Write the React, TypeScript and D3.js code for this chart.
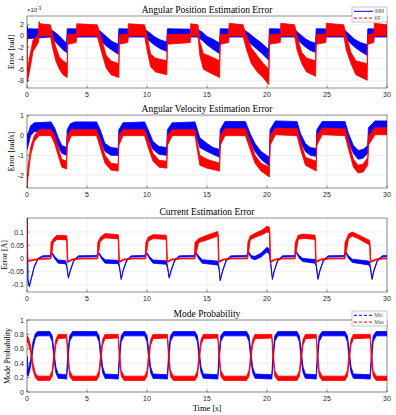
import React, { useEffect, useRef } from "react";
import * as d3 from "d3";

type Row = [number, number, number]; // [time, lower edge, upper edge] of the noisy trace

const timeTicks = [0, 5, 10, 15, 20, 25, 30];
const posTicks = [-8, -6, -4, -2, 0, 2];
const velTicks = [-2, -1, 0, 1];
const curTicks = [-0.1, -0.05, 0, 0.05, 0.1];
const probTicks = [0, 0.2, 0.4, 0.6, 0.8, 1];

// angular position error, x1e-3 rad
const posImm: Row[] = [
  [0, -1.0, 1.8], [0.05, -0.5, 1.3], [1.95, -0.2, 1.2], [2.3, -0.9, 0.7], [2.7, -1.8, 0.0],
  [3.0, -2.5, -0.7], [3.3, -3.0, -1.3], [3.35, -0.2, 1.3], [5.85, -0.2, 1.2], [6.2, -0.9, 0.7],
  [6.6, -1.8, -0.1], [7.1, -2.6, -1.0], [7.6, -3.3, -1.5], [7.65, -0.2, 1.3], [9.8, -0.2, 1.2],
  [10.2, -0.9, 0.6], [10.6, -1.6, -0.1], [11.1, -2.3, -0.7], [11.65, -2.8, -1.1], [11.7, -0.2, 1.3],
  [14.2, -0.2, 1.2], [14.6, -0.8, 0.7], [15.0, -1.6, -0.1], [15.5, -2.4, -0.6], [16.05, -3.2, -1.3],
  [16.1, -0.2, 1.3], [18.0, -0.2, 1.2], [18.5, -1.1, 0.5], [19.0, -2.1, -0.4], [19.5, -3.0, -1.2],
  [20.15, -4.4, -2.5], [20.2, -0.2, 1.3], [22.3, -0.2, 1.2], [22.7, -1.0, 0.4], [23.2, -2.0, -0.5],
  [23.6, -2.6, -1.0], [24.05, -3.0, -1.3], [24.1, -0.2, 1.3], [26.4, -0.2, 1.2], [26.8, -1.0, 0.4],
  [27.3, -2.0, -0.6], [27.8, -2.8, -1.2], [28.35, -3.5, -1.6], [28.4, -0.2, 1.3], [30, -0.2, 1.2],
];
const posKf: Row[] = [
  [0, -0.5, 0.5], [0.03, -8.3, -6.5], [0.2, -6.5, -4.0], [0.5, -2.8, -0.8], [0.95, -1.2, 0.3],
  [1.0, 0.0, 2.6], [1.1, 0.0, 2.2], [1.95, 0.0, 2.0], [2.1, -1.8, 0.5], [2.4, -4.5, -2.0],
  [2.7, -6.0, -3.8], [3.0, -7.0, -4.5], [3.35, -7.5, -5.0], [3.4, -1.5, 0.3], [4.1, -1.2, 0.3],
  [4.15, 0.0, 2.2], [5.85, 0.0, 2.0], [6.0, -1.2, 1.0], [6.3, -3.6, -1.2], [6.6, -5.8, -3.5],
  [7.0, -7.0, -4.5], [7.65, -7.5, -5.0], [7.7, -1.5, 0.3], [8.4, -1.2, 0.3], [8.45, 0.0, 2.2],
  [9.8, 0.0, 2.0], [10.0, -2.5, 0.0], [10.3, -5.5, -3.3], [10.7, -6.5, -4.0], [11.65, -7.0, -4.5],
  [11.7, -1.5, 0.3], [13.6, -1.2, 0.3], [13.65, 0.0, 2.2], [14.25, 0.0, 2.0], [14.4, -3.5, -1.0],
  [14.7, -6.0, -3.2], [15.2, -6.6, -3.6], [16.05, -7.5, -4.5], [16.1, -1.5, 0.3], [16.8, -1.2, 0.3],
  [16.85, 0.0, 2.3], [18.0, 0.0, 2.0], [18.3, -2.5, 0.0], [18.7, -5.0, -2.2], [19.2, -6.5, -3.6],
  [19.7, -7.6, -5.0], [20.15, -8.8, -6.0], [20.2, -1.5, 0.3], [21.1, -1.2, 0.3], [21.15, 0.0, 2.3],
  [22.3, 0.0, 2.0], [22.5, -2.5, 0.0], [22.9, -5.0, -3.0], [23.3, -6.5, -4.0], [24.05, -7.3, -4.5],
  [24.1, -1.5, 0.3], [24.9, -1.2, 0.3], [24.95, 0.0, 2.3], [26.4, 0.0, 2.0], [26.6, -2.5, 0.0],
  [27.0, -5.0, -3.0], [27.4, -7.0, -4.5], [28.35, -8.0, -5.0], [28.4, -1.5, 0.3], [28.9, -1.2, 0.3],
  [28.95, 0.0, 2.3], [30, 0.0, 2.0],
];

// angular velocity error, rad/s
const velImm: Row[] = [
  [0, -0.7, 0.1], [0.1, -0.5, 0.1], [0.3, 0.0, 0.5], [0.6, 0.2, 0.65], [2.0, 0.2, 0.7],
  [2.3, -0.1, 0.4], [2.6, -0.5, -0.1], [2.9, -0.9, -0.5], [3.3, -1.0, -0.6], [3.35, -0.2, 0.3],
  [3.6, 0.1, 0.6], [4.0, 0.2, 0.7], [5.8, 0.2, 0.7], [6.1, -0.2, 0.3], [6.5, -0.8, -0.4],
  [7.0, -1.0, -0.6], [7.6, -1.0, -0.65], [7.65, -0.2, 0.3], [8.0, 0.2, 0.65], [9.8, 0.2, 0.7],
  [10.1, -0.2, 0.3], [10.5, -0.7, -0.3], [11.0, -0.95, -0.55], [11.65, -1.0, -0.6], [11.7, -0.2, 0.3],
  [12.1, 0.2, 0.65], [14.0, 0.2, 0.7], [14.4, -0.6, -0.1], [15.0, -0.8, -0.4], [15.5, -0.95, -0.6],
  [16.05, -1.1, -0.7], [16.1, -0.2, 0.3], [16.5, 0.3, 0.72], [18.2, 0.2, 0.72], [18.6, -0.3, 0.1],
  [19.0, -0.8, -0.4], [19.5, -1.2, -0.8], [20.2, -1.55, -1.1], [20.25, -0.2, 0.3], [20.7, 0.3, 0.75],
  [22.5, 0.2, 0.72], [22.8, -0.3, 0.1], [23.2, -0.8, -0.4], [23.6, -1.0, -0.6], [24.1, -1.05, -0.65],
  [24.15, -0.2, 0.3], [24.6, 0.3, 0.72], [26.5, 0.2, 0.72], [26.8, -0.3, 0.1], [27.2, -0.9, -0.5],
  [27.6, -1.2, -0.75], [28.0, -1.15, -0.7], [28.4, -0.9, -0.5], [28.45, -0.1, 0.4], [29.0, 0.3, 0.75],
  [30, 0.3, 0.75],
];
const velKf: Row[] = [
  [0, -2.7, -2.3], [0.1, -2.0, -1.5], [0.3, -1.0, -0.6], [0.6, -0.3, 0.0], [1.0, 0.0, 0.3],
  [2.0, 0.0, 0.3], [2.3, -0.4, 0.0], [2.6, -1.0, -0.6], [2.9, -1.6, -1.2], [3.3, -1.7, -1.3],
  [3.35, -0.5, 0.0], [3.7, 0.0, 0.3], [5.8, 0.0, 0.3], [6.1, -0.6, -0.2], [6.5, -1.4, -1.0],
  [7.0, -1.75, -1.4], [7.6, -1.8, -1.45], [7.65, -0.5, 0.0], [8.0, 0.0, 0.3], [9.8, 0.0, 0.3],
  [10.1, -0.6, -0.2], [10.5, -1.3, -0.9], [11.0, -1.6, -1.25], [11.65, -1.65, -1.3], [11.7, -0.5, 0.0],
  [12.1, 0.0, 0.3], [14.0, 0.0, 0.3], [14.4, -1.5, -1.0], [15.0, -1.65, -1.2], [16.05, -1.8, -1.4],
  [16.1, -0.5, 0.0], [16.5, 0.0, 0.35], [18.2, 0.0, 0.35], [18.6, -0.7, -0.3], [19.0, -1.4, -1.0],
  [19.5, -1.8, -1.4], [20.2, -2.1, -1.6], [20.25, -0.5, 0.0], [20.7, 0.05, 0.38], [22.5, 0.0, 0.35],
  [22.8, -0.7, -0.3], [23.2, -1.5, -1.1], [24.1, -1.8, -1.3], [24.15, -0.5, 0.0], [24.6, 0.05, 0.38],
  [26.5, 0.0, 0.35], [26.8, -0.7, -0.3], [27.2, -1.6, -1.2], [27.6, -1.9, -1.5], [28.0, -1.85, -1.45],
  [28.4, -1.5, -1.1], [28.45, -0.5, 0.0], [29.0, 0.05, 0.4], [30, 0.05, 0.4],
];

// current error, A
const curImm: Row[] = [
  [0, 0.2, 0.2], [0.08, -0.09, -0.08], [0.2, -0.108, -0.1], [0.35, -0.08, -0.075], [0.6, -0.035, -0.03],
  [0.9, -0.005, 0.0], [1.3, 0.005, 0.01], [1.9, 0.006, 0.011], [2.05, 0.02, 0.024], [2.3, 0.0, 0.008],
  [2.6, -0.018, -0.006], [3.2, -0.02, -0.008], [3.3, -0.03, -0.02], [3.45, -0.075, -0.07], [3.6, -0.05, -0.045],
  [3.9, -0.01, -0.005], [4.3, 0.005, 0.01], [5.8, 0.006, 0.011], [5.95, 0.02, 0.024], [6.2, 0.0, 0.008],
  [6.5, -0.018, -0.005], [7.6, -0.02, -0.007], [7.7, -0.035, -0.025], [7.85, -0.08, -0.075], [8.0, -0.05, -0.045],
  [8.3, -0.01, -0.005], [8.7, 0.005, 0.01], [9.8, 0.006, 0.011], [9.95, 0.02, 0.024], [10.2, 0.0, 0.008],
  [10.5, -0.018, -0.006], [11.6, -0.022, -0.009], [11.7, -0.035, -0.025], [11.85, -0.075, -0.07], [12.0, -0.05, -0.045],
  [12.3, -0.01, -0.005], [12.7, 0.005, 0.01], [13.9, 0.006, 0.011], [14.05, 0.022, 0.026], [14.3, 0.0, 0.01],
  [14.6, -0.018, -0.005], [15.9, -0.025, -0.01], [16.0, -0.04, -0.03], [16.1, -0.085, -0.08], [16.3, -0.05, -0.045],
  [16.6, -0.01, -0.005], [17.0, 0.005, 0.01], [18.3, 0.006, 0.011], [18.45, 0.022, 0.027], [18.7, 0.0, 0.01],
  [19.0, -0.005, 0.008], [19.5, 0.005, 0.02], [20.0, 0.025, 0.042], [20.2, 0.015, 0.035], [20.3, -0.02, -0.01],
  [20.45, -0.08, -0.075], [20.6, -0.05, -0.045], [20.9, -0.01, -0.005], [21.3, 0.005, 0.01], [22.3, 0.006, 0.011],
  [22.45, 0.022, 0.026], [22.7, 0.0, 0.01], [23.0, -0.012, 0.0], [24.0, -0.018, -0.004], [24.1, -0.03, -0.02],
  [24.25, -0.08, -0.075], [24.4, -0.05, -0.045], [24.7, -0.01, -0.005], [25.1, 0.005, 0.01], [26.4, 0.006, 0.011],
  [26.55, 0.022, 0.026], [26.8, 0.0, 0.01], [27.1, -0.015, -0.003], [28.5, -0.025, -0.01], [28.6, -0.035, -0.025],
  [28.75, -0.08, -0.075], [28.9, -0.05, -0.045], [29.2, -0.01, -0.005], [29.6, 0.005, 0.01], [30, 0.006, 0.011],
];
const curKf: Row[] = [
  [0, 0.2, 0.2], [0.03, -0.012, -0.008], [0.3, -0.01, -0.006], [1.0, -0.004, 0.0], [1.95, -0.002, 0.001],
  [2.0, 0.0, 0.06], [2.2, 0.06, 0.075], [2.5, 0.072, 0.088], [3.3, 0.07, 0.086], [3.35, -0.015, 0.07],
  [3.4, -0.015, -0.01], [3.8, -0.006, -0.002], [4.5, -0.002, 0.001], [5.85, -0.002, 0.001], [5.9, 0.0, 0.06],
  [6.1, 0.065, 0.08], [6.5, 0.078, 0.094], [7.6, 0.074, 0.09], [7.65, -0.015, 0.07], [7.7, -0.015, -0.01],
  [8.1, -0.006, -0.002], [8.8, -0.002, 0.001], [9.85, -0.002, 0.001], [9.9, 0.0, 0.06], [10.1, 0.065, 0.08],
  [10.5, 0.075, 0.09], [11.6, 0.072, 0.088], [11.65, -0.015, 0.07], [11.7, -0.015, -0.01], [12.1, -0.006, -0.002],
  [12.8, -0.002, 0.001], [13.95, -0.002, 0.001], [14.0, 0.0, 0.06], [14.3, 0.06, 0.075], [15.0, 0.07, 0.088],
  [15.9, 0.085, 0.102], [15.95, -0.015, 0.085], [16.0, -0.015, -0.01], [16.4, -0.006, -0.002], [17.0, -0.002, 0.001],
  [18.35, -0.002, 0.001], [18.4, 0.0, 0.06], [18.6, 0.07, 0.085], [19.0, 0.08, 0.095], [19.6, 0.09, 0.108],
  [20.0, 0.1, 0.122], [20.2, 0.098, 0.118], [20.25, -0.015, 0.095], [20.3, -0.015, -0.01], [20.7, -0.006, -0.002],
  [21.3, -0.002, 0.001], [22.3, -0.002, 0.001], [22.35, 0.0, 0.06], [22.6, 0.072, 0.088], [23.0, 0.076, 0.092],
  [24.0, 0.072, 0.088], [24.05, -0.015, 0.07], [24.1, -0.015, -0.01], [24.5, -0.006, -0.002], [25.2, -0.002, 0.001],
  [26.45, -0.002, 0.001], [26.5, 0.0, 0.06], [26.8, 0.075, 0.092], [27.1, 0.085, 0.1], [27.6, 0.075, 0.09],
  [28.4, 0.055, 0.072], [28.55, 0.05, 0.068], [28.6, -0.015, 0.05], [28.65, -0.015, -0.01], [29.1, -0.006, -0.002],
  [29.7, -0.002, 0.001], [30, -0.002, 0.001],
];

// mode probability
const probMin: Row[] = [
  [0, 0.25, 0.5], [0.1, 0.22, 0.3], [0.3, 0.35, 0.45], [0.5, 0.6, 0.7], [0.7, 0.75, 0.81], [0.9, 0.78, 0.84],
  [1.9, 0.78, 0.84], [2.1, 0.7, 0.78], [2.25, 0.45, 0.58], [2.4, 0.27, 0.35], [2.6, 0.19, 0.25],
  [3.3, 0.18, 0.24], [3.4, 0.4, 0.55], [3.55, 0.7, 0.78], [3.8, 0.78, 0.84],
  [5.8, 0.78, 0.84], [6.0, 0.7, 0.78], [6.15, 0.45, 0.58], [6.3, 0.27, 0.35], [6.5, 0.19, 0.25],
  [7.6, 0.18, 0.24], [7.7, 0.4, 0.55], [7.85, 0.7, 0.78], [8.1, 0.78, 0.84],
  [9.8, 0.78, 0.84], [10.0, 0.7, 0.78], [10.15, 0.45, 0.58], [10.3, 0.27, 0.35], [10.5, 0.19, 0.25],
  [11.7, 0.18, 0.24], [11.8, 0.4, 0.55], [11.95, 0.7, 0.78], [12.2, 0.78, 0.84],
  [14.0, 0.78, 0.84], [14.2, 0.7, 0.78], [14.35, 0.45, 0.58], [14.5, 0.27, 0.35], [14.7, 0.19, 0.25],
  [15.9, 0.18, 0.24], [16.0, 0.4, 0.55], [16.15, 0.7, 0.78], [16.4, 0.78, 0.84],
  [18.3, 0.78, 0.84], [18.5, 0.7, 0.78], [18.65, 0.45, 0.58], [18.8, 0.27, 0.35], [19.0, 0.19, 0.25],
  [20.4, 0.18, 0.24], [20.5, 0.4, 0.55], [20.65, 0.7, 0.78], [20.9, 0.78, 0.84],
  [22.5, 0.78, 0.84], [22.7, 0.7, 0.78], [22.85, 0.45, 0.58], [23.0, 0.27, 0.35], [23.2, 0.19, 0.25],
  [24.1, 0.18, 0.24], [24.2, 0.4, 0.55], [24.35, 0.7, 0.78], [24.6, 0.78, 0.84],
  [26.5, 0.78, 0.84], [26.7, 0.7, 0.78], [26.85, 0.45, 0.58], [27.0, 0.27, 0.35], [27.2, 0.19, 0.25],
  [28.6, 0.18, 0.24], [28.7, 0.4, 0.55], [28.85, 0.7, 0.78], [29.1, 0.78, 0.84], [30, 0.78, 0.84],
];
const probMax: Row[] = [
  [0, 0.7, 0.78], [0.1, 0.68, 0.76], [0.3, 0.55, 0.65], [0.5, 0.3, 0.4], [0.7, 0.2, 0.26], [0.9, 0.16, 0.22],
  [1.9, 0.16, 0.22], [2.1, 0.22, 0.3], [2.25, 0.42, 0.55], [2.4, 0.65, 0.73], [2.6, 0.74, 0.8],
  [3.3, 0.75, 0.8], [3.4, 0.45, 0.6], [3.55, 0.22, 0.3], [3.8, 0.16, 0.22],
  [5.8, 0.16, 0.22], [6.0, 0.22, 0.3], [6.15, 0.42, 0.55], [6.3, 0.65, 0.73], [6.5, 0.74, 0.8],
  [7.6, 0.75, 0.8], [7.7, 0.45, 0.6], [7.85, 0.22, 0.3], [8.1, 0.16, 0.22],
  [9.8, 0.16, 0.22], [10.0, 0.22, 0.3], [10.15, 0.42, 0.55], [10.3, 0.65, 0.73], [10.5, 0.74, 0.8],
  [11.7, 0.75, 0.8], [11.8, 0.45, 0.6], [11.95, 0.22, 0.3], [12.2, 0.16, 0.22],
  [14.0, 0.16, 0.22], [14.2, 0.22, 0.3], [14.35, 0.42, 0.55], [14.5, 0.65, 0.73], [14.7, 0.74, 0.8],
  [15.9, 0.75, 0.8], [16.0, 0.45, 0.6], [16.15, 0.22, 0.3], [16.4, 0.16, 0.22],
  [18.3, 0.16, 0.22], [18.5, 0.22, 0.3], [18.65, 0.42, 0.55], [18.8, 0.65, 0.73], [19.0, 0.74, 0.8],
  [20.4, 0.75, 0.8], [20.5, 0.45, 0.6], [20.65, 0.22, 0.3], [20.9, 0.16, 0.22],
  [22.5, 0.16, 0.22], [22.7, 0.22, 0.3], [22.85, 0.42, 0.55], [23.0, 0.65, 0.73], [23.2, 0.74, 0.8],
  [24.1, 0.75, 0.8], [24.2, 0.45, 0.6], [24.35, 0.22, 0.3], [24.6, 0.16, 0.22],
  [26.5, 0.16, 0.22], [26.7, 0.22, 0.3], [26.85, 0.42, 0.55], [27.0, 0.65, 0.73], [27.2, 0.74, 0.8],
  [28.6, 0.75, 0.8], [28.7, 0.45, 0.6], [28.85, 0.22, 0.3], [29.1, 0.16, 0.22], [30, 0.16, 0.22],
];

const BLUE = "#0000ff";
const RED = "#ff0000";
const AX = "#262626";
const GRID = "#e3e3e3";
const SANS = "'Liberation Sans', Arial, sans-serif";
const SERIF = "'Liberation Serif', 'Times New Roman', serif";

const W = 396;
const H = 415;
const plotLeft = 27;
const plotRight = 387;

export default function App() {
  const svgRef = useRef<SVGSVGElement>(null);

  useEffect(() => {
    const svg = d3.select(svgRef.current);
    svg.selectAll("*").remove();

    const x = d3.scaleLinear().domain([0, 30]).range([plotLeft, plotRight]);

    const panels = [
      {
        title: "Angular Position Estimation Error", ylabel: "Error [rad]", labelX: 14,
        top: 16, bottom: 88, domain: [-9.4, 3.6], ticks: posTicks,
        series: [{ data: posImm, color: BLUE }, { data: posKf, color: RED }],
        legend: [{ name: "IMM", color: BLUE, dash: "" }, { name: "KF", color: RED, dash: "3,2" }],
      },
      {
        title: "Angular Velocity Estimation Error", ylabel: "Error [rad/s]", labelX: 14,
        top: 115, bottom: 188, domain: [-2.66, 1.05], ticks: velTicks,
        series: [{ data: velImm, color: BLUE }, { data: velKf, color: RED }],
        legend: null,
      },
      {
        title: "Current Estimation Error", ylabel: "Error [A]", labelX: 7,
        top: 218, bottom: 292, domain: [-0.127, 0.153], ticks: curTicks,
        series: [{ data: curImm, color: BLUE }, { data: curKf, color: RED }],
        legend: null,
      },
      {
        title: "Mode Probability", ylabel: "Mode Probability", labelX: 10,
        top: 320, bottom: 392, domain: [0, 1], ticks: probTicks,
        series: [{ data: probMin, color: BLUE }, { data: probMax, color: RED }],
        legend: [{ name: "Min", color: BLUE, dash: "3,2" }, { name: "Max", color: RED, dash: "3,2" }],
      },
    ];

    panels.forEach((p, i) => {
      const y = d3.scaleLinear().domain(p.domain).range([p.bottom, p.top]);
      const g = svg.append("g");
      const clipId = `clip-${i}`;

      svg.append("clipPath").attr("id", clipId)
        .append("rect")
        .attr("x", plotLeft).attr("y", p.top)
        .attr("width", plotRight - plotLeft).attr("height", p.bottom - p.top);

      g.append("rect")
        .attr("x", plotLeft).attr("y", p.top)
        .attr("width", plotRight - plotLeft).attr("height", p.bottom - p.top)
        .attr("fill", "#fff");

      // grid
      g.selectAll(".gx").data(timeTicks).enter().append("line")
        .attr("x1", (d) => x(d)).attr("x2", (d) => x(d))
        .attr("y1", p.top).attr("y2", p.bottom)
        .attr("stroke", GRID).attr("stroke-width", 0.6);
      g.selectAll(".gy").data(p.ticks).enter().append("line")
        .attr("x1", plotLeft).attr("x2", plotRight)
        .attr("y1", (d) => y(d)).attr("y2", (d) => y(d))
        .attr("stroke", GRID).attr("stroke-width", 0.6);

      // noisy traces drawn as bands
      const band = d3.area<Row>()
        .x((d) => x(d[0]))
        .y0((d) => y(d[1]))
        .y1((d) => y(d[2]));
      const traces = g.append("g").attr("clip-path", `url(#${clipId})`);
      p.series.forEach((s) => {
        traces.append("path")
          .datum(s.data)
          .attr("d", band)
          .attr("fill", s.color)
          .attr("stroke", s.color)
          .attr("stroke-width", 0.8)
          .attr("stroke-linejoin", "round");
      });

      // box
      g.append("rect")
        .attr("x", plotLeft).attr("y", p.top)
        .attr("width", plotRight - plotLeft).attr("height", p.bottom - p.top)
        .attr("fill", "none").attr("stroke", AX).attr("stroke-width", 0.5);

      // ticks
      g.selectAll(".tx").data(timeTicks).enter().append("line")
        .attr("x1", (d) => x(d)).attr("x2", (d) => x(d))
        .attr("y1", p.bottom).attr("y2", p.bottom - 2.5)
        .attr("stroke", AX).attr("stroke-width", 0.5);
      g.selectAll(".ty").data(p.ticks).enter().append("line")
        .attr("x1", plotLeft).attr("x2", plotLeft + 2.5)
        .attr("y1", (d) => y(d)).attr("y2", (d) => y(d))
        .attr("stroke", AX).attr("stroke-width", 0.5);

      g.selectAll(".lx").data(timeTicks).enter().append("text")
        .attr("x", (d) => x(d)).attr("y", p.bottom + 8.5)
        .attr("text-anchor", "middle")
        .attr("font-family", SANS).attr("font-size", 7).attr("fill", AX)
        .text((d) => String(d));
      g.selectAll(".ly").data(p.ticks).enter().append("text")
        .attr("x", plotLeft - 3).attr("y", (d) => y(d) + 2.5)
        .attr("text-anchor", "end")
        .attr("font-family", SANS).attr("font-size", 7).attr("fill", AX)
        .text((d) => String(d));

      g.append("text")
        .attr("x", (plotLeft + plotRight) / 2).attr("y", p.top - 3)
        .attr("text-anchor", "middle")
        .attr("font-family", SERIF).attr("font-size", 9.5).attr("fill", "#000")
        .text(p.title);

      g.append("text")
        .attr("transform", `translate(${p.labelX},${(p.top + p.bottom) / 2}) rotate(-90)`)
        .attr("text-anchor", "middle")
        .attr("font-family", SERIF).attr("font-size", 8).attr("fill", "#000")
        .text(p.ylabel);

      if (p.legend) {
        const lx = 352;
        const ly = p.top - 9;
        const lg = g.append("g");
        lg.append("rect")
          .attr("x", lx).attr("y", ly).attr("width", 35).attr("height", 15)
          .attr("fill", "#fff").attr("stroke", "#8c8c8c").attr("stroke-width", 0.5);
        p.legend.forEach((e, k) => {
          const yy = ly + 4.3 + k * 6.8;
          lg.append("line")
            .attr("x1", lx + 2).attr("x2", lx + 21)
            .attr("y1", yy).attr("y2", yy)
            .attr("stroke", e.color).attr("stroke-width", 1)
            .attr("stroke-dasharray", e.dash || null);
          lg.append("text")
            .attr("x", lx + 22.5).attr("y", yy + 1.8)
            .attr("font-family", SANS).attr("font-size", 5).attr("fill", "#555")
            .text(e.name);
        });
      }
    });

    // exponent label for the first axis
    const ex = svg.append("text")
      .attr("x", plotLeft).attr("y", 12)
      .attr("font-family", SANS).attr("font-size", 6).attr("fill", AX);
    ex.append("tspan").text("\u00d710");
    ex.append("tspan").attr("dy", -2.5).attr("font-size", 4.5).text("-3");

    svg.append("text")
      .attr("x", (plotLeft + plotRight) / 2).attr("y", 411)
      .attr("text-anchor", "middle")
      .attr("font-family", SERIF).attr("font-size", 8.5).attr("fill", "#000")
      .text("Time [s]");
  }, []);

  return (
    <svg
      ref={svgRef}
      width={W}
      height={H}
      style={{ position: "absolute", left: 0, top: 0, background: "#fff" }}
    />
  );
}
